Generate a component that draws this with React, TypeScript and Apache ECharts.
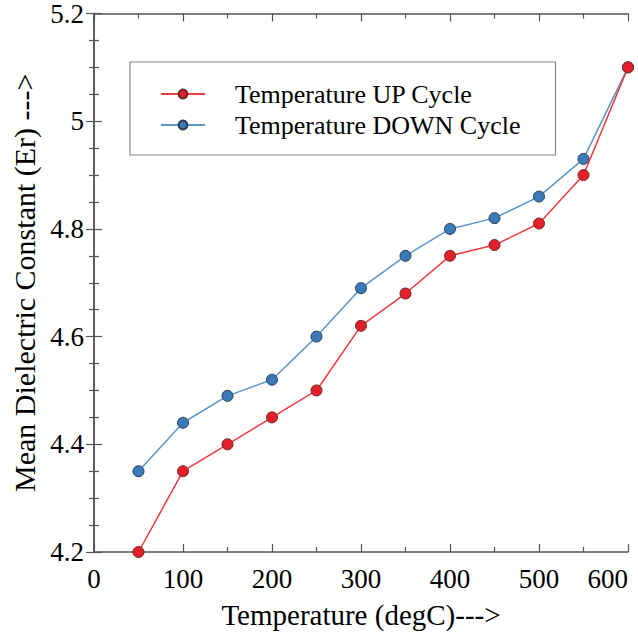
import React, { useEffect, useRef } from "react";
import * as echarts from "echarts";

const temperatures = [50, 100, 150, 200, 250, 300, 350, 400, 450, 500, 550, 600];
const upCycle = [4.2, 4.35, 4.4, 4.45, 4.5, 4.62, 4.68, 4.75, 4.77, 4.81, 4.9, 5.1];
const downCycle = [4.35, 4.44, 4.49, 4.52, 4.6, 4.69, 4.75, 4.8, 4.82, 4.86, 4.93, 5.1];
const seriesNames = ["Temperature UP Cycle", "Temperature DOWN Cycle"];

const FONT = "'Liberation Serif', 'Times New Roman', serif";
const AXIS_COLOR = "#555";

export default function App() {
  const ref = useRef<HTMLDivElement>(null);
  useEffect(() => {
    if (!ref.current) return;
    const chart = echarts.init(ref.current, null, { renderer: "svg" });
    const tickCommon = {
      axisLine: { show: true, lineStyle: { color: AXIS_COLOR, width: 1.5 } },
      axisTick: { show: true, inside: true, length: 8, lineStyle: { color: AXIS_COLOR, width: 1.2 } },
      splitLine: { show: false },
    };
    chart.setOption({
      animation: false,
      backgroundColor: "#fff",
      grid: { left: 94, right: 10, top: 13, bottom: 79, containLabel: false },
      legend: {
        show: true,
        orient: "vertical",
        left: 130,
        top: 62,
        padding: [19, 35, 17, 30],
        itemWidth: 44,
        itemHeight: 11,
        itemGap: 5,
        borderColor: "#888",
        borderWidth: 1.2,
        textStyle: {
          fontFamily: FONT,
          fontSize: 26,
          lineHeight: 26,
          color: "#000",
          padding: [0, 0, 0, 25],
        },
        data: seriesNames,
      },
      xAxis: [
        {
          type: "value",
          min: 0,
          max: 600,
          interval: 100,
          position: "bottom",
          ...tickCommon,
          minorTick: { show: true, splitNumber: 2, length: 5, lineStyle: { color: AXIS_COLOR, width: 1.2 } },
          axisLabel: { fontFamily: FONT, fontSize: 27, color: "#000", margin: 13, alignMaxLabel: "right" },
          name: "Temperature (degC)--->",
          nameLocation: "middle",
          nameGap: 48,
          nameTextStyle: { fontFamily: FONT, fontSize: 29, color: "#000" },
        },
        {
          type: "value",
          min: 0,
          max: 600,
          interval: 100,
          position: "top",
          ...tickCommon,
          minorTick: { show: true, splitNumber: 2, length: 5, lineStyle: { color: AXIS_COLOR, width: 1.2 } },
          axisLabel: { show: false },
        },
      ],
      yAxis: [
        {
          type: "value",
          min: 4.2,
          max: 5.2,
          interval: 0.2,
          position: "left",
          ...tickCommon,
          minorTick: { show: true, splitNumber: 4, length: 5, lineStyle: { color: AXIS_COLOR, width: 1.2 } },
          axisLabel: {
            fontFamily: FONT,
            fontSize: 27,
            color: "#000",
            margin: 10,
            formatter: (v: number) => String(Math.round(v * 10) / 10),
          },
          name: "Mean Dielectric Constant (Er) --->",
          nameLocation: "middle",
          nameGap: 55,
          nameTextStyle: { fontFamily: FONT, fontSize: 30, color: "#000" },
        },
        {
          type: "value",
          min: 4.2,
          max: 5.2,
          interval: 0.2,
          position: "right",
          ...tickCommon,
          minorTick: { show: true, splitNumber: 4, length: 5, lineStyle: { color: AXIS_COLOR, width: 1.2 } },
          axisLabel: { show: false },
        },
      ],
      series: [
        {
          name: seriesNames[0],
          type: "line",
          data: temperatures.map((t, i) => [t, upCycle[i]]),
          symbol: "circle",
          symbolSize: 11,
          lineStyle: { color: "#ee3b40", width: 1.5 },
          itemStyle: { color: "#e3202a", borderColor: "#6a2a2a", borderWidth: 1 },
          z: 3,
        },
        {
          name: seriesNames[1],
          type: "line",
          data: temperatures.map((t, i) => [t, downCycle[i]]),
          symbol: "circle",
          symbolSize: 11,
          lineStyle: { color: "#5b96c8", width: 1.5 },
          itemStyle: { color: "#3a7ab8", borderColor: "#2d3e55", borderWidth: 1 },
          z: 2,
        },
      ],
    });
    return () => chart.dispose();
  }, []);
  return (
    <div
      ref={ref}
      style={{ position: "fixed", left: 0, top: 0, width: 638, height: 634, background: "#fff" }}
    />
  );
}
